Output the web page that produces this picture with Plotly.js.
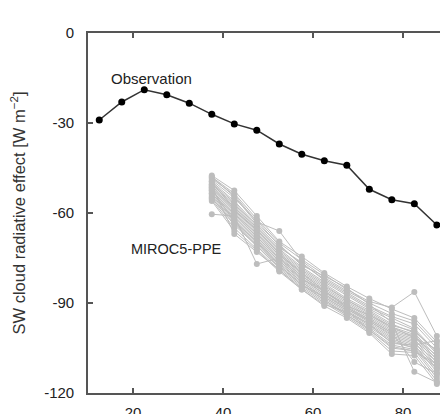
<!DOCTYPE html>
<html>
<head>
<meta charset="utf-8">
<script src="https://cdn.plot.ly/plotly-3.0.1.min.js"></script>
<style>
  html, body { margin: 0; padding: 0; background: #fff; }
  #chart { width: 440px; height: 414px; }
</style>
</head>
<body>
<div id="chart"></div>
<script>
// Latitude bins (degrees)
const obsLat = [12.5, 17.5, 22.5, 27.5, 32.5, 37.5, 42.5, 47.5, 52.5, 57.5, 62.5, 67.5, 72.5, 77.5, 82.5, 87.5];
// Observed SW cloud radiative effect (W m-2)
const obsSWCRE = [-29.0, -23.0, -18.9, -20.6, -23.4, -27.1, -30.3, -32.4, -37.0, -40.4, -42.6, -44.1, -52.1, -55.6, -56.9, -64.0];

// Latitude bins covered by the perturbed-physics ensemble
const ppeLat = [37.5, 42.5, 47.5, 52.5, 57.5, 62.5, 67.5, 72.5, 77.5, 82.5, 87.5];
// MIROC5 perturbed-physics ensemble members (W m-2)
const ppeMembers = [
  [-47.5, -52.5, -61.0, -69.5, -74.5, -80.0, -84.5, -88.5, -92.0, -95.0, -103.0],
  [-48.0, -53.5, -62.0, -70.0, -75.5, -80.5, -85.5, -89.5, -91.5, -86.3, -101.0],
  [-48.5, -54.0, -63.0, -66.0, -76.0, -81.5, -86.0, -90.0, -93.5, -96.0, -104.0],
  [-49.0, -55.0, -62.5, -71.0, -77.0, -82.0, -86.5, -91.0, -94.5, -97.0, -105.0],
  [-49.5, -56.0, -64.0, -71.5, -76.5, -82.5, -87.0, -91.5, -95.0, -98.5, -106.5],
  [-50.0, -56.5, -64.5, -72.0, -78.0, -83.0, -87.5, -92.0, -96.0, -99.0, -107.0],
  [-50.5, -57.0, -65.0, -72.5, -78.5, -83.5, -88.5, -92.5, -97.0, -100.0, -108.0],
  [-50.5, -57.5, -65.5, -73.0, -79.0, -84.0, -89.0, -93.0, -97.5, -99.5, -106.0],
  [-51.0, -58.0, -66.0, -73.5, -79.5, -84.5, -89.0, -93.5, -98.0, -100.5, -109.0],
  [-51.5, -58.5, -66.5, -74.0, -80.0, -85.0, -89.5, -94.0, -98.5, -101.0, -110.0],
  [-51.5, -59.0, -67.0, -74.0, -80.5, -85.5, -90.0, -94.5, -99.0, -101.5, -107.5],
  [-52.0, -59.5, -67.5, -74.5, -81.0, -86.0, -90.5, -95.0, -99.5, -102.0, -111.0],
  [-52.5, -60.0, -68.0, -75.0, -81.0, -86.5, -91.0, -95.5, -100.0, -102.5, -108.5],
  [-52.5, -60.5, -68.0, -75.5, -81.5, -87.0, -91.5, -96.0, -100.5, -103.0, -112.0],
  [-53.0, -61.0, -68.5, -76.0, -82.0, -87.0, -92.0, -96.0, -101.0, -103.5, -109.5],
  [-53.5, -61.5, -69.0, -76.0, -82.5, -87.5, -92.0, -96.5, -101.5, -104.0, -113.0],
  [-53.5, -62.0, -69.5, -76.5, -83.0, -88.0, -92.5, -97.0, -102.0, -104.5, -110.5],
  [-54.0, -62.5, -70.0, -77.0, -83.0, -88.5, -93.0, -97.5, -102.5, -105.0, -114.0],
  [-54.5, -63.0, -70.5, -77.5, -83.5, -89.0, -93.5, -98.0, -103.0, -105.0, -112.0],
  [-55.0, -63.5, -71.0, -78.0, -84.0, -89.0, -94.0, -98.5, -104.0, -105.5, -115.0],
  [-55.0, -64.0, -71.0, -78.5, -84.5, -89.5, -94.0, -99.0, -105.0, -106.0, -111.5],
  [-55.5, -65.0, -72.0, -79.0, -85.0, -90.0, -94.5, -99.5, -106.0, -106.5, -116.0],
  [-56.0, -66.0, -72.5, -79.5, -85.5, -91.0, -95.0, -100.0, -107.0, -107.5, -117.0],
  [-60.4, -61.0, -77.0, -75.0, -82.0, -86.0, -91.5, -95.5, -100.0, -109.7, -113.5],
  [-48.0, -54.5, -63.5, -70.5, -77.5, -81.0, -85.0, -90.5, -96.5, -112.9, -116.5],
  [-51.0, -67.0, -73.0, -79.0, -85.5, -90.5, -93.0, -97.0, -103.5, -104.0, -102.5],
  [-49.5, -59.0, -65.5, -73.5, -80.0, -86.0, -91.0, -94.0, -98.0, -101.5, -105.5],
  [-52.0, -63.0, -69.5, -77.5, -84.0, -88.0, -92.5, -99.0, -104.5, -106.0, -110.5]
];

const xTicks = [20, 40, 60, 80];
const yTicks = [0, -30, -60, -90, -120];

const FONT = 'Liberation Sans, Arial, Helvetica, sans-serif';
const AXIS_COLOR = '#555555';
const ENSEMBLE_GREY = '#bdbdbd';

const traces = ppeMembers.map(vals => ({
  x: ppeLat,
  y: vals,
  type: 'scatter',
  mode: 'lines+markers',
  line: { color: ENSEMBLE_GREY, width: 1 },
  marker: { color: ENSEMBLE_GREY, size: 6 },
  showlegend: false,
  hoverinfo: 'skip'
}));

traces.push({
  x: obsLat,
  y: obsSWCRE,
  type: 'scatter',
  mode: 'lines+markers',
  line: { color: '#333333', width: 1.5 },
  marker: { color: '#000000', size: 7 },
  showlegend: false
});

const layout = {
  width: 440,
  height: 414,
  margin: { l: 88, r: 0, t: 33, b: 21 },
  paper_bgcolor: '#ffffff',
  plot_bgcolor: '#ffffff',
  font: { family: FONT, size: 14, color: '#222222' },
  showlegend: false,
  xaxis: {
    range: [10, 88.2],
    tickvals: xTicks,
    ticktext: xTicks.map(String),
    ticks: 'inside',
    ticklen: 5,
    tickwidth: 1.2,
    tickcolor: AXIS_COLOR,
    showline: true,
    linecolor: AXIS_COLOR,
    linewidth: 1.8,
    mirror: 'ticks',
    showgrid: false,
    zeroline: false,
    ticklabelstandoff: 5,
    tickfont: { family: FONT, size: 15, color: '#222222' }
  },
  yaxis: {
    range: [-120, 0],
    tickvals: yTicks,
    ticktext: yTicks.map(String),
    ticks: 'inside',
    ticklen: 5,
    tickwidth: 1.2,
    tickcolor: AXIS_COLOR,
    showline: true,
    linecolor: AXIS_COLOR,
    linewidth: 1.8,
    showgrid: false,
    zeroline: false,
    ticklabelstandoff: 9,
    tickfont: { family: FONT, size: 15, color: '#222222' },
    title: {
      text: 'SW cloud radiative effect [W m<sup>\u22122</sup>]',
      font: { family: FONT, size: 16.5, color: '#333333' },
      standoff: 14
    }
  },
  annotations: [
    {
      x: 24.2, y: -15.1, xref: 'x', yref: 'y',
      text: 'Observation', showarrow: false,
      font: { family: FONT, size: 15, color: '#222222' }
    },
    {
      x: 29.6, y: -72.1, xref: 'x', yref: 'y',
      text: 'MIROC5-PPE', showarrow: false,
      font: { family: FONT, size: 14.5, color: '#222222' }
    }
  ]
};

Plotly.newPlot('chart', traces, layout, { displayModeBar: false, staticPlot: true });
</script>
</body>
</html>
